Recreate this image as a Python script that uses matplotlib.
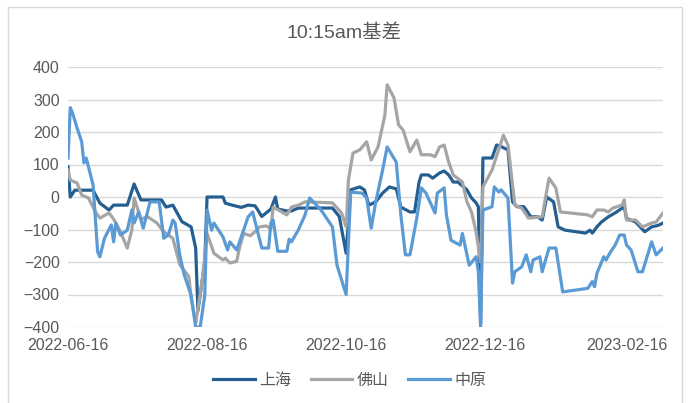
import matplotlib
matplotlib.use("Agg")
import matplotlib.pyplot as plt
import matplotlib.dates as mdates
from matplotlib.patches import Rectangle
import pandas as pd

plt.rcParams['font.family'] = ['Liberation Sans', 'Noto Sans CJK SC', 'DejaVu Sans']

# 上海
sh_dates = ['2022-06-16', '2022-06-17', '2022-06-19', '2022-06-27', '2022-06-30', '2022-07-04',
            '2022-07-06', '2022-07-12', '2022-07-15', '2022-07-18', '2022-07-27', '2022-07-29',
            '2022-08-01', '2022-08-05', '2022-08-09', '2022-08-11', '2022-08-12', '2022-08-15',
            '2022-08-16', '2022-08-23', '2022-08-24', '2022-08-27', '2022-08-31', '2022-09-03',
            '2022-09-06', '2022-09-07', '2022-09-09', '2022-09-13', '2022-09-15', '2022-09-16',
            '2022-09-20', '2022-09-22', '2022-09-25', '2022-10-10', '2022-10-13', '2022-10-16',
            '2022-10-18', '2022-10-22', '2022-10-24', '2022-10-26', '2022-10-29', '2022-11-01',
            '2022-11-04', '2022-11-07', '2022-11-09', '2022-11-13', '2022-11-15', '2022-11-17',
            '2022-11-18', '2022-11-21', '2022-11-23', '2022-11-26', '2022-11-28', '2022-11-30',
            '2022-12-02', '2022-12-04', '2022-12-08', '2022-12-10', '2022-12-12', '2022-12-13',
            '2022-12-14', '2022-12-15', '2022-12-19', '2022-12-21', '2022-12-23', '2022-12-26',
            '2022-12-28', '2022-12-30', '2023-01-02', '2023-01-05', '2023-01-08', '2023-01-10',
            '2023-01-12', '2023-01-15', '2023-01-17', '2023-01-20', '2023-01-29', '2023-01-31',
            '2023-02-01', '2023-02-03', '2023-02-05', '2023-02-08', '2023-02-11', '2023-02-15',
            '2023-02-16', '2023-02-20', '2023-02-24', '2023-02-27', '2023-03-02', '2023-03-04']
sh_vals = [93, 0, 21, 21, -19, -40,
           -25, -25, 40, -9, -9, -31,
           -25, -76, -92, -157, -350, -200,
           0, 0, -19, -25, -32, -25,
           -27, -37, -60, -37, 0, -37,
           -43, -43, -34, -34, -60, -173,
           22, 31, 22, -25, -15, 12,
           31, 25, -31, -46, -46, 46,
           68, 68, 58, 74, 80, 68,
           46, 46, 22, -3, -18, -30,
           -390, 120, 120, 160, 155, 145,
           -15, -30, -30, -61, -61, -71,
           0, -15, -92, -102, -111, -102,
           -111, -92, -77, -61, -49, -30,
           -66, -77, -107, -92, -87, -80]

# 佛山
fs_dates = ['2022-06-16', '2022-06-17', '2022-06-20', '2022-06-22', '2022-06-25', '2022-06-28',
            '2022-06-30', '2022-07-04', '2022-07-06', '2022-07-09', '2022-07-12', '2022-07-14',
            '2022-07-15', '2022-07-18', '2022-07-21', '2022-07-25', '2022-07-28', '2022-08-01',
            '2022-08-04', '2022-08-08', '2022-08-09', '2022-08-11', '2022-08-14', '2022-08-16',
            '2022-08-19', '2022-08-23', '2022-08-24', '2022-08-26', '2022-08-29', '2022-08-30',
            '2022-09-01', '2022-09-04', '2022-09-06', '2022-09-08', '2022-09-11', '2022-09-13',
            '2022-09-14', '2022-09-17', '2022-09-20', '2022-09-22', '2022-09-25', '2022-09-28',
            '2022-10-10', '2022-10-14', '2022-10-16', '2022-10-17', '2022-10-19', '2022-10-22',
            '2022-10-25', '2022-10-27', '2022-10-30', '2022-11-02', '2022-11-03', '2022-11-06',
            '2022-11-08', '2022-11-10', '2022-11-13', '2022-11-16', '2022-11-18', '2022-11-22',
            '2022-11-24', '2022-11-26', '2022-11-28', '2022-11-30', '2022-12-02', '2022-12-06',
            '2022-12-08', '2022-12-10', '2022-12-12', '2022-12-14', '2022-12-15', '2022-12-19',
            '2022-12-24', '2022-12-26', '2022-12-29', '2023-01-01', '2023-01-04', '2023-01-10',
            '2023-01-13', '2023-01-16', '2023-01-18', '2023-01-30', '2023-02-01', '2023-02-03',
            '2023-02-06', '2023-02-08', '2023-02-10', '2023-02-14', '2023-02-15', '2023-02-16',
            '2023-02-20', '2023-02-23', '2023-02-27', '2023-03-01', '2023-03-04']
fs_vals = [83, 52, 43, 6, -3, -46,
           -65, -49, -68, -107, -157, -102,
           -3, -68, -61, -80, -107, -127,
           -208, -245, -310, -390, -250, -112,
           -173, -194, -188, -203, -198, -163,
           -112, -119, -107, -92, -89, -98,
           -31, -43, -55, -31, -25, -15,
           -18, -49, -92, 52, 135, 145,
           170, 114, 154, 252, 345, 305,
           222, 206, 139, 175, 130, 130,
           124, 154, 160, 107, 68, 46,
           -15, -46, -107, -200, 31, 83,
           190, 160, -25, -34, -65, -61,
           58, 28, -46, -55, -61, -40,
           -40, -46, -34, -25, -9, -71,
           -71, -92, -80, -77, -49]

# 中原
zy_dates = ['2022-06-16', '2022-06-17', '2022-06-18', '2022-06-20', '2022-06-22', '2022-06-23',
            '2022-06-24', '2022-06-27', '2022-06-29', '2022-06-30', '2022-07-02', '2022-07-05',
            '2022-07-06', '2022-07-07', '2022-07-09', '2022-07-12', '2022-07-14', '2022-07-15',
            '2022-07-17', '2022-07-19', '2022-07-22', '2022-07-26', '2022-07-28', '2022-07-30',
            '2022-08-01', '2022-08-02', '2022-08-04', '2022-08-06', '2022-08-09', '2022-08-11',
            '2022-08-13', '2022-08-15', '2022-08-16', '2022-08-18', '2022-08-19', '2022-08-23',
            '2022-08-25', '2022-08-26', '2022-08-29', '2022-08-31', '2022-09-03', '2022-09-05',
            '2022-09-07', '2022-09-09', '2022-09-12', '2022-09-13', '2022-09-14', '2022-09-16',
            '2022-09-20', '2022-09-21', '2022-09-22', '2022-09-25', '2022-09-28', '2022-09-30',
            '2022-10-05', '2022-10-10', '2022-10-12', '2022-10-16', '2022-10-18', '2022-10-23',
            '2022-10-25', '2022-10-27', '2022-10-29', '2022-11-01', '2022-11-03', '2022-11-07',
            '2022-11-09', '2022-11-11', '2022-11-13', '2022-11-16', '2022-11-18', '2022-11-20',
            '2022-11-24', '2022-11-25', '2022-11-28', '2022-11-29', '2022-12-01', '2022-12-05',
            '2022-12-06', '2022-12-09', '2022-12-12', '2022-12-13', '2022-12-14', '2022-12-15',
            '2022-12-19', '2022-12-20', '2022-12-22', '2022-12-23', '2022-12-26', '2022-12-28',
            '2022-12-29', '2023-01-01', '2023-01-03', '2023-01-05', '2023-01-06', '2023-01-09',
            '2023-01-10', '2023-01-13', '2023-01-16', '2023-01-19', '2023-01-30', '2023-02-01',
            '2023-02-02', '2023-02-03', '2023-02-06', '2023-02-07', '2023-02-09', '2023-02-11',
            '2023-02-13', '2023-02-15', '2023-02-16', '2023-02-18', '2023-02-21', '2023-02-23',
            '2023-02-27', '2023-03-01', '2023-03-04']
zy_vals = [120, 275, 258, 212, 170, 105,
           120, 37, -169, -184, -127, -86,
           -138, -80, -117, -102, -40, -80,
           -46, -96, -15, -15, -127, -117,
           -71, -80, -178, -240, -302, -400,
           -400, -302, -40, -102, -80, -123,
           -163, -138, -163, -123, -61, -46,
           -102, -157, -157, -80, -71, -167,
           -167, -130, -138, -102, -55, -3,
           -40, -92, -210, -300, 15, 12,
           -3, -96, -15, 83, 154, 107,
           -55, -178, -178, -65, 28, 12,
           -49, 12, 28, -55, -133, -148,
           -112, -210, -184, -230, -400, -40,
           -30, 31, 15, 22, -3, -265,
           -230, -215, -178, -230, -194, -184,
           -230, -157, -157, -292, -281, -260,
           -276, -235, -184, -194, -169, -148,
           -117, -117, -148, -163, -230, -230,
           -138, -178, -157]

series_names = ['上海', '佛山', '中原']
series_colors = ['#255E91', '#A5A5A5', '#5B9BD5']
tick_dates = ['2022-06-16', '2022-08-16', '2022-10-16', '2022-12-16', '2023-02-16']
yticks = [-400, -300, -200, -100, 0, 100, 200, 300, 400]

fig = plt.figure(figsize=(6.88, 4.03), dpi=100)
ax = fig.add_axes([68 / 688, 76 / 403, 595 / 688, 260 / 403])

# frame around the chart
fig.patches.append(Rectangle((8 / 688, -0.02), 674 / 688, 1 - 7 / 403 + 0.02,
                             transform=fig.transFigure, fill=False,
                             edgecolor='#D9D9D9', linewidth=1.0))

data = [(sh_dates, sh_vals), (fs_dates, fs_vals), (zy_dates, zy_vals)]
order = [1, 0, 2]
lines = {}
for i in order:
    d, v = data[i]
    ln, = ax.plot(pd.to_datetime(d), v, color=series_colors[i], linewidth=2.3,
                  label=series_names[i], solid_joinstyle='round', zorder=3 + i)
    lines[i] = ln

ax.set_ylim(-400, 400)
ax.set_yticks(yticks)
ax.set_xlim(pd.Timestamp('2022-06-16'), pd.Timestamp('2023-03-04'))
ax.set_xticks(pd.to_datetime(tick_dates))
ax.xaxis.set_major_formatter(mdates.DateFormatter('%Y-%m-%d'))

ax.grid(axis='y', color='#D9D9D9', linewidth=1.0)
ax.set_axisbelow(True)
for s in ax.spines.values():
    s.set_visible(False)
ax.tick_params(length=0, labelsize=11.5, colors='#595959')
ax.tick_params(axis='x', pad=8)
ax.tick_params(axis='y', pad=6)

fig.text(344 / 688, 1 - 33 / 403, '10:15am基差', ha='center', va='center',
         fontsize=14, color='#595959')

ax.legend([lines[0], lines[1], lines[2]], series_names, loc='center',
          bbox_to_anchor=(350 / 688, 1 - 380 / 403), bbox_transform=fig.transFigure,
          ncol=3, frameon=False, fontsize=11.5, handlelength=2.6,
          columnspacing=1.2, handletextpad=0.3, labelcolor='#595959')

fig.savefig('out.png', dpi=100)
